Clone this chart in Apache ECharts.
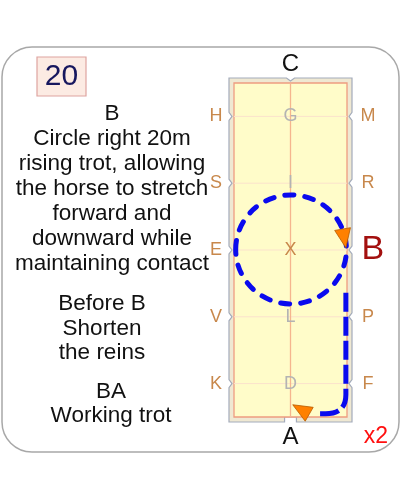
<!DOCTYPE html>
<html>
<head>
<meta charset="utf-8">
<script src="https://cdn.jsdelivr.net/npm/echarts@6/dist/echarts.min.js"></script>
<style>
  html, body { margin: 0; padding: 0; background: #fff; }
  #chart { width: 400px; height: 500px; }
</style>
</head>
<body>
<div id="chart"></div>
<script>
// ── Data ─────────────────────────────────────────────────────────────────────
const arenaWidth = 20;   // metres
const arenaLength = 60;  // metres
const markerDist = [6, 18, 30, 42, 54];
const leftLetters = ['H', 'S', 'E', 'V', 'K'];
const rightLetters = ['M', 'R', 'B', 'P', 'F'];
const centreLetters = ['G', 'I', 'X', 'L', 'D'];
const endLetters = ['C', 'A'];
const highlightLetter = 'B';

const circleFigure = [[10.1, 29.9, 9.8]];          // cx, cy, radius (m)
const trackLine = [[19.8, 37.7], [19.8, 56.0]];     // straight down from B
const trackCorner = [[19.8, 59.4], [16.2, 59.4]];   // control, end
const trackEnd = [15.2, 59.4];
const arrowHeads = [[19.8, 29.6, 80], [10.4, 57.8, 210]]; // tip x, tip y, screen angle

const movementNo = '20';
const instructionGroups = [
  ['B', 'Circle right 20m', 'rising trot, allowing', 'the horse to stretch',
   'forward and', 'downward while', 'maintaining contact'],
  ['Before B', 'Shorten', 'the reins'],
  ['BA', 'Working trot']
];
const repeatLabel = 'x2';

// ── Chart ────────────────────────────────────────────────────────────────────
const chart = echarts.init(document.getElementById('chart'));
const FONT = '"Liberation Sans", Arial, sans-serif';

function arenaRender(params, api) {
  const tl = api.coord([0, 0]);
  const br = api.coord([arenaWidth, arenaLength]);
  const m = 5;
  const L = tl[0] - m, T = tl[1] - m, R = br[0] + m, B = br[1] + m;
  const cx = api.coord([arenaWidth / 2, 0])[0];
  const gateL = api.coord([arenaWidth / 2 - 1.05, 0])[0];
  const gateR = api.coord([arenaWidth / 2 + 1.05, 0])[0];
  const ys = markerDist.map(d => api.coord([0, d])[1]);

  const pts = [[L, T], [cx - 4, T], [cx, T + 3], [cx + 4, T], [R, T]];
  ys.forEach(y => { pts.push([R, y - 4], [R - 3, y], [R, y + 4]); });
  pts.push([R, B], [gateR, B], [gateR, br[1]], [gateL, br[1]], [gateL, B], [L, B]);
  ys.slice().reverse().forEach(y => { pts.push([L, y + 4], [L + 3, y], [L, y - 4]); });

  const children = [
    { type: 'polygon', shape: { points: pts },
      style: { fill: '#efe8d2', stroke: '#a3abbb', lineWidth: 1.2 } },
    { type: 'rect', shape: { x: tl[0], y: tl[1], width: br[0] - tl[0], height: br[1] - tl[1] },
      style: { fill: '#fffcc9', stroke: '#ee9c80', lineWidth: 1.3 } }
  ];
  ys.forEach(y => {
    children.push({ type: 'line', shape: { x1: tl[0], y1: y, x2: br[0], y2: y },
      style: { stroke: '#fbe2cc', lineWidth: 1 } });
  });
  children.push({ type: 'line', shape: { x1: cx, y1: tl[1], x2: cx, y2: br[1] },
    style: { stroke: '#f5b58e', lineWidth: 1.3 } });
  return { type: 'group', children: children };
}

function letterSeries(letters, xPos, colorFn, sizeFn, shiftFn) {
  return {
    type: 'custom', z: 2,
    data: letters.map((t, i) => [xPos, markerDist[i]]),
    renderItem: (params, api) => {
      const p = api.coord([api.value(0), api.value(1)]);
      const t = letters[params.dataIndex];
      const dx = shiftFn ? shiftFn(t) : 0;
      return { type: 'text', x: p[0] + dx, y: p[1],
        style: { text: t, fill: colorFn(t), font: sizeFn(t) + 'px ' + FONT,
                 align: 'center', verticalAlign: 'middle' } };
    }
  };
}

const sideColor = t => t === highlightLetter ? '#a3100f' : '#c8884c';
const sideSize = t => t === highlightLetter ? 34 : 18;
const sideShift = t => t === highlightLetter ? 5 : 0;
const centreColor = t => t === 'X' ? '#c8884c' : '#b3b3b3';

function textBlock(lines, x, firstY, lh) {
  return { type: 'text', x: x, y: firstY - lh / 2,
    style: { text: lines.join('\n'), fill: '#111', font: '22.5px ' + FONT,
             lineHeight: lh, align: 'center', verticalAlign: 'top' } };
}

chart.setOption({
  animation: false,
  grid: { left: 234, top: 83, width: 113, height: 334 },
  xAxis: { type: 'value', min: 0, max: arenaWidth, show: false },
  yAxis: { type: 'value', min: 0, max: arenaLength, inverse: true, show: false },
  graphic: [
    { type: 'rect', shape: { x: 2, y: 47, width: 397, height: 405, r: 30 },
      style: { fill: '#fff', stroke: '#a8a8a8', lineWidth: 1.5 }, z: -10 },
    { type: 'rect', shape: { x: 37, y: 57, width: 49, height: 39 },
      style: { fill: '#fcebe3', stroke: '#dea4a0', lineWidth: 1.2 } },
    { type: 'text', x: 61.5, y: 77,
      style: { text: movementNo, fill: '#17175e', font: '30px ' + FONT,
               align: 'center', verticalAlign: 'middle' } },
    textBlock(instructionGroups[0], 112, 114, 25),
    textBlock(instructionGroups[1], 102, 304, 24.5),
    textBlock(instructionGroups[2], 111, 392, 24),
    { type: 'text', x: 376, y: 437,
      style: { text: repeatLabel, fill: '#ff1010', font: '23px ' + FONT,
               align: 'center', verticalAlign: 'middle' } }
  ],
  series: [
    { type: 'custom', data: [[0, 0]], renderItem: arenaRender, z: 1 },
    // end letters C and A
    {
      type: 'custom', z: 2,
      data: [[arenaWidth / 2, -3.3], [arenaWidth / 2, 63.6]],
      renderItem: (params, api) => {
        const p = api.coord([api.value(0), api.value(1)]);
        return { type: 'text', x: p[0], y: p[1],
          style: { text: endLetters[params.dataIndex], fill: '#111', font: '24px ' + FONT,
                   align: 'center', verticalAlign: 'middle' } };
      }
    },
    letterSeries(leftLetters, -3.2, sideColor, sideSize),
    letterSeries(rightLetters, 23.7, sideColor, sideSize, sideShift),
    letterSeries(centreLetters, arenaWidth / 2, centreColor, () => 18),
    // 20m circle
    {
      type: 'custom', z: 3, data: circleFigure,
      renderItem: (params, api) => {
        const c = api.coord([api.value(0), api.value(1)]);
        const s = api.size([api.value(2), api.value(2)]);
        return { type: 'ellipse', shape: { cx: c[0], cy: c[1], rx: s[0], ry: s[1] },
          style: { fill: null, stroke: '#0a0aee', lineWidth: 5, lineDash: [9, 11], lineCap: 'round' } };
      }
    },
    // track from B down to A
    {
      type: 'custom', z: 3, data: [[0, 0]],
      renderItem: (params, api) => {
        const a = api.coord(trackLine[0]), b = api.coord(trackLine[1]);
        const q = api.coord(trackCorner[0]), e = api.coord(trackCorner[1]);
        const f = api.coord(trackEnd);
        const d = 'M' + a + 'L' + b + 'Q' + q + ' ' + e + 'L' + f;
        return { type: 'path', shape: { pathData: d },
          style: { fill: null, stroke: '#0a0aee', lineWidth: 5, lineDash: [19, 5], lineCap: 'butt' } };
      }
    },
    // arrow heads
    {
      type: 'custom', z: 4, data: arrowHeads,
      renderItem: (params, api) => {
        const tip = api.coord([api.value(0), api.value(1)]);
        const ang = api.value(2) * Math.PI / 180;
        const len = 19, half = 8;
        const bx = tip[0] - Math.cos(ang) * len, by = tip[1] - Math.sin(ang) * len;
        const nx = -Math.sin(ang) * half, ny = Math.cos(ang) * half;
        return { type: 'polygon',
          shape: { points: [tip, [bx + nx, by + ny], [bx - nx, by - ny]] },
          style: { fill: '#ff8000', stroke: '#b65a00', lineWidth: 0.8 } };
      }
    }
  ]
});
</script>
</body>
</html>
